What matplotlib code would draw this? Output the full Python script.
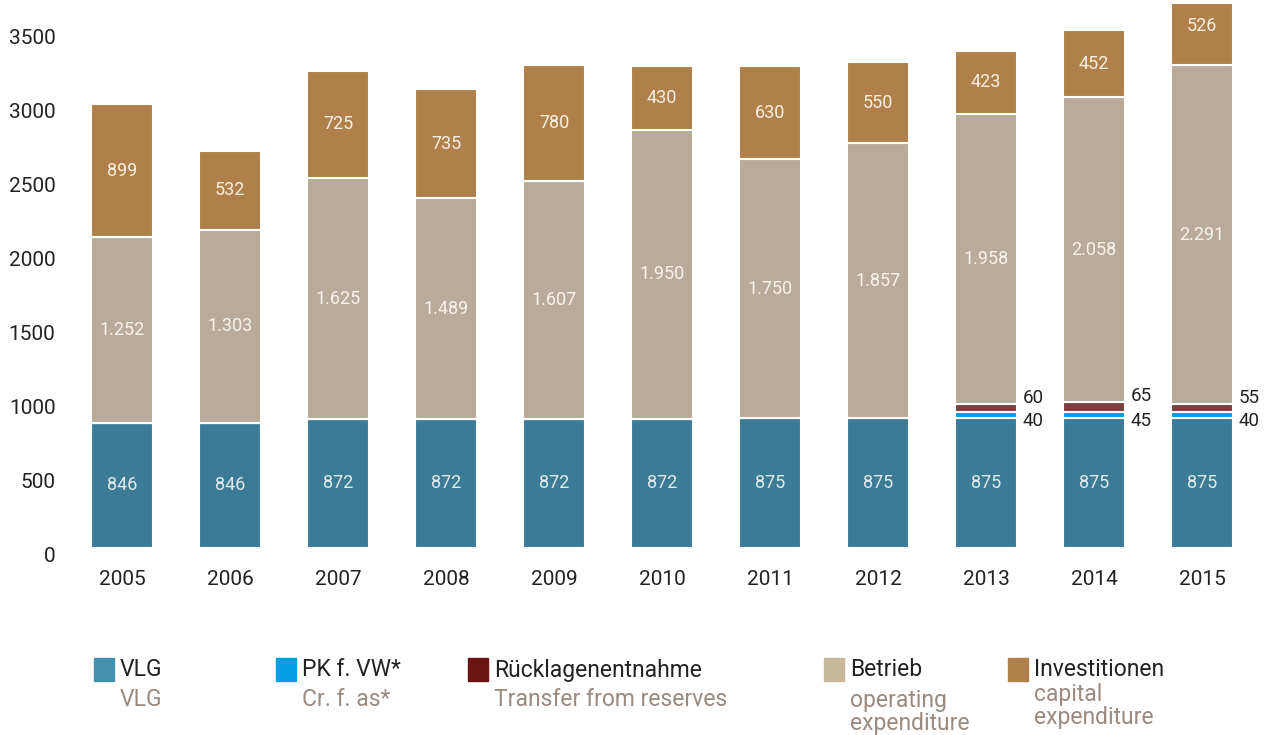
import matplotlib.pyplot as plt
import matplotlib.transforms as mtransforms
import numpy as np

# ─── Data ────────────────────────────────────────────────────────────────────
years = ['2005', '2006', '2007', '2008', '2009', '2010', '2011', '2012', '2013', '2014', '2015']
vlg = [846, 846, 872, 872, 872, 872, 875, 875, 875, 875, 875]
pk_vw = [0, 0, 0, 0, 0, 0, 0, 0, 40, 45, 40]
ruecklagen = [0, 0, 0, 0, 0, 0, 0, 0, 60, 65, 55]
betrieb = [1252, 1303, 1625, 1489, 1607, 1950, 1750, 1857, 1958, 2058, 2291]
investitionen = [899, 532, 725, 735, 780, 430, 630, 550, 423, 452, 526]

legend_de = ['VLG', 'PK f. VW*', 'Rücklagenentnahme', 'Betrieb', 'Investitionen']
legend_en = ['VLG', 'Cr. f. as*', 'Transfer from reserves', 'operating\nexpenditure', 'capital\nexpenditure']

# ─── Style ───────────────────────────────────────────────────────────────────
plt.rcParams['font.family'] = ['Roboto', 'DejaVu Sans']
C_VLG, C_PK, C_RL, C_BET, C_INV = '#3b7b96', '#00a0e3', '#7a3f3f', '#b8ab99', '#b0804a'
LEG_COLORS = ['#4591b0', '#00a0e3', '#6b1515', '#c8b89a', '#b0804a']
DARK = '#222222'
EN_COLOR = '#9a8a80'

W, H = 1276, 735
fig = plt.figure(figsize=(W / 100, H / 100), dpi=100)
# axes: x from -0.5..10.5 -> px 68..1256; y 0 at px 548, top at px 4
ax = fig.add_axes([68 / W, (H - 548) / H, (1256 - 68) / W, 544 / H])

x = np.arange(len(years))
bw = 0.574
kw = dict(width=bw, edgecolor='white', linewidth=1.5)

vlg_a = np.array(vlg)
pk_a = np.array(pk_vw)
rl_a = np.array(ruecklagen)
bet_a = np.array(betrieb)
inv_a = np.array(investitionen)

ax.bar(x, vlg_a, color=C_VLG, **kw)
b1 = vlg_a
ax.bar(x, pk_a, bottom=b1, color=C_PK, **kw)
b2 = b1 + pk_a
ax.bar(x, rl_a, bottom=b2, color=C_RL, **kw)
b3 = b2 + rl_a
ax.bar(x, bet_a, bottom=b3, color=C_BET, **kw)
b4 = b3 + bet_a
ax.bar(x, inv_a, bottom=b4, color=C_INV, **kw)


def fmt(v):
    return f'{v:,}'.replace(',', '.')


for i in range(len(years)):
    ax.text(x[i], vlg_a[i] / 2, fmt(vlg_a[i]), ha='center', va='center',
            fontsize=13, color='#e2eaee')
    ax.text(x[i], b3[i] + bet_a[i] / 2, fmt(bet_a[i]), ha='center', va='center',
            fontsize=13, color='#f8f4ee')
    ax.text(x[i], b4[i] + inv_a[i] / 2, fmt(inv_a[i]), ha='center', va='center',
            fontsize=13, color='#f8efe2')
    if pk_a[i] > 0:
        ax.text(x[i] + bw / 2 + 0.05, b3[i] + 40, fmt(rl_a[i]), ha='left', va='center',
                fontsize=13.5, color=DARK)
        ax.text(x[i] + bw / 2 + 0.05, b1[i] - 20, fmt(pk_a[i]), ha='left', va='center',
                fontsize=13.5, color=DARK)

ax.set_xlim(-0.5, 10.5)
ax.set_ylim(0, 3673)
ax.set_xticks(x)
ax.set_xticklabels(years, fontsize=15, color=DARK)
ax.set_yticks(range(0, 3501, 500))
ax.set_yticklabels([str(v) for v in range(0, 3501, 500)], fontsize=15, color=DARK)
ax.tick_params(axis='both', length=0)
ax.tick_params(axis='x', pad=16)
ax.tick_params(axis='y', pad=9)
for s in ax.spines.values():
    s.set_visible(False)

# y tick labels sit slightly below their value
off = mtransforms.ScaledTranslation(0, -7 / 100, fig.dpi_scale_trans)
for lab in ax.get_yticklabels():
    lab.set_transform(lab.get_transform() + off)

# ─── Legend ──────────────────────────────────────────────────────────────────
sq_x = [94, 276, 468, 824, 1008]
en_y = [700, 700, 700, 712, 706]
for i in range(5):
    fig.patches.append(plt.Rectangle((sq_x[i] / W, (H - 681) / H), 20 / W, 23 / H,
                                     transform=fig.transFigure, color=LEG_COLORS[i]))
    fig.text((sq_x[i] + 26) / W, (H - 670) / H, legend_de[i], ha='left', va='center',
             fontsize=16.5, color=DARK)
    fig.text((sq_x[i] + 26) / W, (H - en_y[i]) / H, legend_en[i], ha='left', va='center',
             fontsize=16.5, color=EN_COLOR, linespacing=1.0)

fig.savefig('out.png', dpi=100)
plt.close()
